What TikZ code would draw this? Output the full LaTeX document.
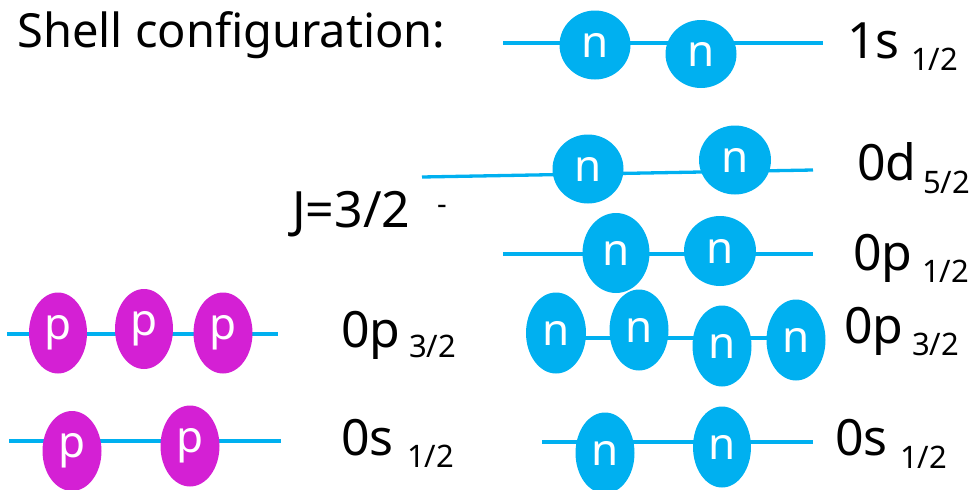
\documentclass[tikz,border=0pt]{standalone}
\usepackage{fontspec}
\setmainfont{Noto Sans}
\usetikzlibrary{shapes.geometric}
\definecolor{cyanb}{HTML}{00B0F0}
\definecolor{magp}{HTML}{D420D4}
\tikzset{
  lvl/.style={draw=cyanb, line width=3.3pt},
  part/.style={ellipse, inner sep=0pt, text=white, font=\fontsize{44}{44}\selectfont},
  neu/.style={part, fill=cyanb},
  pro/.style={part, fill=magp},
  big/.style={anchor=base west, inner sep=0pt, font=\fontsize{50}{50}\selectfont},
  sub/.style={anchor=base west, inner sep=0pt, font=\fontsize{31}{31}\selectfont},
}
\begin{document}
\begin{tikzpicture}[x=1pt,y=-1pt]
\useasboundingbox (0,0) rectangle (975,490);
% title
\node[anchor=base west, inner sep=0pt, font=\fontsize{47}{47}\selectfont] (title) at (17,47) {Shell configuration:};
% level coordinates
\coordinate (a1) at (503,43);  \coordinate (b1) at (823,43);
\coordinate (a2) at (422,177); \coordinate (b2) at (813,170);
\coordinate (a3) at (503,254); \coordinate (b3) at (813,254);
\coordinate (a4) at (556,338); \coordinate (b4) at (796,338);
\coordinate (a5) at (542,442); \coordinate (b5) at (813,442);
\coordinate (a6) at (7,334);   \coordinate (b6) at (278,334);
\coordinate (a7) at (9,441);   \coordinate (b7) at (281,441);
\draw[lvl] (a1) -- (b1);
\draw[lvl] (a2) -- (b2);
\draw[lvl] (a3) -- (b3);
\draw[lvl] (a4) -- (b4);
\draw[lvl] (a5) -- (b5);
\draw[lvl] (a6) -- (b6);
\draw[lvl] (a7) -- (b7);
% 1s1/2
\node[neu, minimum width=71pt, minimum height=69pt] (n1) at (595,45) {n};
\node[neu, minimum width=71pt, minimum height=68pt] (n2) at (701,54) {n};
% 0d5/2
\node[neu, minimum width=71pt, minimum height=69pt] (n3) at (588,169) {n};
\node[neu, minimum width=72pt, minimum height=69pt] (n4) at (735,160) {n};
% 0p1/2
\node[neu, minimum width=67pt, minimum height=80pt] (n5) at (616,253) {n};
\node[neu, minimum width=72pt, minimum height=70pt] (n6) at (720,251) {n};
% 0p3/2 neutrons
\node[neu, minimum width=60pt, minimum height=81pt] (n7) at (556,333) {n};
\node[neu, minimum width=59pt, minimum height=81pt] (n8) at (639,330) {n};
\node[neu, minimum width=59pt, minimum height=81pt] (n9) at (722,346) {n};
\node[neu, minimum width=59pt, minimum height=81pt] (n10) at (796,340) {n};
% 0s1/2 neutrons
\node[neu, minimum width=59pt, minimum height=81pt] (n11) at (605,453) {n};
\node[neu, minimum width=58pt, minimum height=81pt] (n12) at (722,447) {n};
% protons 0p3/2
\node[pro, minimum width=58pt, minimum height=81pt] (p1) at (58,333) {p};
\node[pro, minimum width=58pt, minimum height=80pt] (p2) at (144,329) {p};
\node[pro, minimum width=59pt, minimum height=81pt] (p3) at (223,333) {p};
% protons 0s1/2
\node[pro, minimum width=59pt, minimum height=80pt] (p4) at (72,451) {p};
\node[pro, minimum width=59pt, minimum height=81pt] (p5) at (190,446) {p};
% labels
\node[big] (l1) at (847,58) {1s};
\node[sub] (l1s) at (911,70) {1/2};
\node[big] (l2) at (857,180) {0d};
\node[sub] (l2s) at (923,193) {5/2};
\node[big] (l3) at (853,270) {0p};
\node[sub] (l3s) at (922,282) {1/2};
\node[big] (l4) at (844,343) {0p};
\node[sub] (l4s) at (912,355) {3/2};
\node[big] (l5) at (835,455) {0s};
\node[sub] (l5s) at (900,468) {1/2};
\node[big] (l6) at (341,347) {0p};
\node[sub] (l6s) at (409,357) {3/2};
\node[big] (l7) at (341,455) {0s};
\node[sub] (l7s) at (407,467) {1/2};
\node[big] (J) at (292,227) {J=3/2};
\node[sub, font=\fontsize{30}{30}\selectfont] (Jm) at (437,214) {-};
\end{tikzpicture}
\end{document}
